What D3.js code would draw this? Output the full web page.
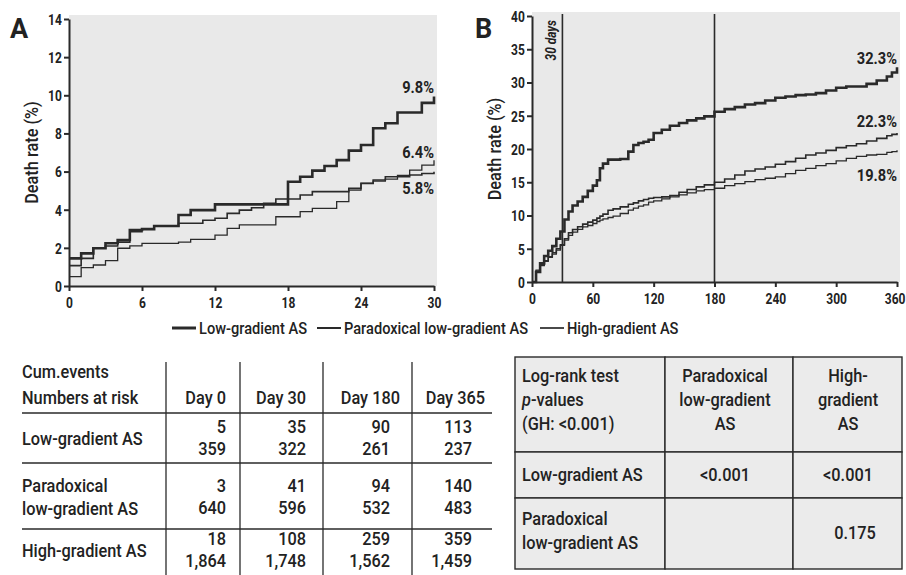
<!DOCTYPE html>
<html>
<head>
<meta charset="utf-8">
<script src="https://cdn.jsdelivr.net/npm/d3@7"></script>
<style>
  body { margin: 0; background: white; }
  text { font-family: "Roboto", "Liberation Sans", sans-serif; fill: #222; font-weight: 500; }
</style>
</head>
<body>
<div id="container"></div>
<script>
let w = 906;
let h = 575;

// panel A, first 30 days (step values read per day)
let aDays = d3.range(0, 31);
let aLow = [1.45,1.71,1.98,2.24,2.41,2.94,2.98,3.15,3.15,3.72,3.98,3.98,4.28,4.28,4.28,4.28,4.28,4.28,5.47,5.73,6.05,6.29,6.6,7.1,7.39,8.27,8.53,9.1,9.1,9.6,9.93];
let aPara = [1.07,1.45,2.0,2.1,2.3,2.85,3.0,3.15,3.15,3.29,3.29,3.45,3.55,3.81,3.98,4.1,4.34,4.56,4.56,4.77,4.95,4.95,4.95,5.12,5.38,5.56,5.73,5.73,5.82,5.9,5.99];
let aHigh = [0.49,0.96,1.1,1.33,1.98,2.1,2.24,2.24,2.24,2.3,2.45,2.45,2.67,3.02,3.2,3.2,3.2,3.63,3.63,3.9,4.07,4.07,4.42,5.03,5.38,5.5,5.6,5.8,6.08,6.34,6.6];
let aEndLabels = ["9.8%", "6.4%", "5.8%"];

// panel B, one year
let bDays = [0,4,8,12,16,20,24,28,32,36,40,45,50,55,60,64,67,70,75,80,87,95,100,105,110,115,120,128,136,145,153,162,170,180,190,200,210,220,230,240,250,260,270,280,290,300,310,320,330,340,350,355,360];
let bLow = [0,1.5,2.8,3.9,4.7,5.4,6.5,7.6,9.4,10.6,11.5,12.1,12.8,13.7,14.5,15.3,17.1,17.8,18.4,18.4,18.5,19.6,20.6,20.9,21.1,21.4,22.4,22.9,23.5,23.9,24.3,24.6,24.9,25.6,26.0,26.3,26.7,26.9,27.3,27.7,27.9,28.1,28.2,28.4,28.8,29.2,29.4,29.4,29.8,30.3,30.9,31.5,32.3];
let bPara = [0,1.6,2.5,3.2,3.8,4.4,5.0,5.6,6.5,7.4,7.9,8.3,8.7,9.0,9.3,9.6,9.9,10.2,10.8,11.0,11.3,11.7,11.9,12.2,12.4,12.6,12.7,12.8,13.0,13.5,13.9,14.3,14.6,15.0,15.5,16.1,16.7,17.0,17.3,17.7,18.1,18.6,19.1,19.4,19.8,20.2,20.5,20.8,21.2,21.6,22.0,22.2,22.4];
let bHigh = [0,1.8,2.6,3.1,3.7,4.2,4.8,5.5,6.3,7.0,7.5,7.9,8.3,8.5,8.8,9.1,9.3,9.5,9.7,9.9,10.3,10.8,11.1,11.4,11.6,12.0,12.2,12.5,12.8,13.1,13.4,13.7,13.9,14.1,14.5,14.8,15.1,15.4,15.6,15.8,16.3,16.8,17.1,17.5,17.8,18.2,18.6,18.9,19.1,19.2,19.5,19.6,19.8];
let bEndLabels = ["32.3%", "22.3%", "19.8%"];
let bMarkers = [30, 180];

let groups = ["Low-gradient AS", "Paradoxical low-gradient AS", "High-gradient AS"];
let widths = [2.6, 1.6, 1.3];

// table of events / numbers at risk
let tableDays = ["Day 0", "Day 30", "Day 180", "Day 365"];
let rowLabels = [["Low-gradient AS"], ["Paradoxical", "low-gradient AS"], ["High-gradient AS"]];
let cumEvents = [[5,35,90,113],[3,41,94,140],[18,108,259,359]];
let atRisk = [[359,322,261,237],[640,596,532,483],[1864,1748,1562,1459]];

// log-rank table
let pColHeads = [["Paradoxical","low-gradient","AS"], ["High-","gradient","AS"]];
let pRowHeads = [["Low-gradient AS"], ["Paradoxical","low-gradient AS"]];
let pValues = [["<0.001","<0.001"], ["","0.175"]];

let ink = "#2a2a2a";
let narrow = 0.86;   // no condensed font installed, squeeze Roboto instead

let viz = d3.select("#container")
  .append("svg")
    .attr("width", w)
    .attr("height", h)
    .style("background-color", "white");

// condensed text helper
function label(parent, x, y, str, size, anchor) {
  return parent.append("text")
    .attr("transform", "translate(" + x + "," + y + ") scale(" + narrow + ",1)")
    .attr("text-anchor", anchor || "start")
    .style("font-size", size)
    .text(str);
}

function drawPanel(opt) {
  let x = d3.scaleLinear().domain(opt.xDomain).range([opt.left, opt.right]);
  let y = d3.scaleLinear().domain(opt.yDomain).range([opt.bottom, opt.top]);

  viz.append("rect")
    .attr("x", opt.left).attr("y", opt.top - 4)
    .attr("width", opt.right - opt.left + 3).attr("height", opt.bottom - opt.top + 4)
    .attr("fill", "#e9e9e9");

  let yAxis = viz.append("g")
    .attr("transform", "translate(" + opt.left + ",0)")
    .call(d3.axisLeft(y).tickValues(opt.yTicks).tickSize(5).tickSizeOuter(0));
  let xAxis = viz.append("g")
    .attr("transform", "translate(0," + opt.bottom + ")")
    .call(d3.axisBottom(x).tickValues(opt.xTicks).tickSize(5).tickSizeOuter(0));
  [xAxis, yAxis].forEach(function(ax) {
    ax.selectAll("path, line").attr("stroke", ink).attr("stroke-width", 2);
    ax.selectAll("text")
      .attr("transform", "scale(0.8,1)")
      .style("font-size", "15px").style("font-weight", "bold").attr("fill", ink);
  });
  yAxis.selectAll("text").attr("dy", "0.36em").attr("x", -9);
  xAxis.selectAll("text").attr("dy", "0.95em");
  if (opt.lastTickEnd) {
    xAxis.selectAll("text").filter(function(d) { return d == opt.xDomain[1]; })
      .attr("text-anchor", "end").attr("x", (w - 1 - opt.right) / 0.8);
  }

  viz.append("text")
    .attr("transform", "translate(" + (opt.left - 31) + "," + ((opt.top + opt.bottom) / 2) + ") rotate(-90) scale(" + narrow + ",1)")
    .attr("text-anchor", "middle")
    .style("font-size", "19px")
    .text("Death rate (%)");

  viz.append("text")
    .attr("x", opt.labelX).attr("y", 38)
    .style("font-size", "27px").style("font-weight", "bold")
    .text(opt.label);

  (opt.markers || []).forEach(function(m) {
    viz.append("line")
      .attr("x1", x(m)).attr("x2", x(m))
      .attr("y1", opt.top - 2).attr("y2", opt.bottom)
      .attr("stroke", ink).attr("stroke-width", 1.6);
  });

  let line = d3.line()
    .x(function(d) { return x(d[0]); })
    .y(function(d) { return y(d[1]); })
    .curve(d3.curveStepAfter);

  opt.series.forEach(function(s, i) {
    let pts = opt.days.map(function(d, j) { return [d, s[j]]; });
    viz.append("path")
      .attr("d", line(pts))
      .attr("fill", "none")
      .attr("stroke", ink)
      .attr("stroke-width", widths[i]);
  });

  opt.endLabels.forEach(function(t, i) {
    label(viz, opt.right, opt.endLabelY[i], t, "17px", "end")
      .style("font-weight", "bold");
  });
  return x;
}

drawPanel({
  xDomain: [0, 30], yDomain: [0, 14],
  left: 69, right: 434, top: 19, bottom: 286,
  xTicks: [0, 6, 12, 18, 24, 30], yTicks: d3.range(0, 15, 2),
  days: aDays, series: [aLow, aPara, aHigh],
  endLabels: aEndLabels, endLabelY: [93, 158, 194],
  label: "A", labelX: 10
});

let xb = drawPanel({
  xDomain: [0, 360], yDomain: [0, 40],
  left: 532, right: 897, top: 16, bottom: 282,
  xTicks: [0, 60, 120, 180, 240, 300, 360], yTicks: d3.range(0, 41, 5),
  days: bDays, series: [bLow, bPara, bHigh],
  endLabels: bEndLabels, endLabelY: [64, 127, 181],
  markers: bMarkers, lastTickEnd: true,
  label: "B", labelX: 475
});

viz.append("text")
  .attr("transform", "translate(" + (xb(30) - 6) + ",20) rotate(-90) scale(0.85,1)")
  .attr("text-anchor", "end")
  .style("font-size", "14px").style("font-weight", "bold").style("font-style", "italic")
  .text("30 days");

// legend
let legendX = [172, 317, 540];
groups.forEach(function(g, i) {
  viz.append("line")
    .attr("x1", legendX[i]).attr("x2", legendX[i] + 24)
    .attr("y1", 328).attr("y2", 328)
    .attr("stroke", ink).attr("stroke-width", widths[i] + 0.4);
  label(viz, legendX[i] + 27, 334, g, "17px");
});

// left table
let colRight = [226, 306, 390, 472];
let headRight = [226, 306, 400, 485];
let vLines = [166, 240, 323, 412];
let hLines = [413, 463, 529];
let rowBase = [433, 492, 545];

viz.selectAll(".tv").data(vLines).enter().append("line")
  .attr("x1", function(d) { return d; }).attr("x2", function(d) { return d; })
  .attr("y1", 362).attr("y2", 575)
  .attr("stroke", ink).attr("stroke-width", 1.3);
viz.selectAll(".th").data(hLines).enter().append("line")
  .attr("x1", 22).attr("x2", 492)
  .attr("y1", function(d) { return d; }).attr("y2", function(d) { return d; })
  .attr("stroke", ink).attr("stroke-width", 1.3);

let tFont = "19px";
label(viz, 22, 378, "Cum.events", tFont);
label(viz, 22, 404, "Numbers at risk", tFont);
tableDays.forEach(function(d, i) {
  label(viz, headRight[i], 404, d, tFont, "end");
});
rowLabels.forEach(function(lbl, r) {
  let base = lbl.length == 1 ? rowBase[r] + 12 : rowBase[r];
  lbl.forEach(function(t, k) {
    label(viz, 22, base + k * 23, t, tFont);
  });
  cumEvents[r].forEach(function(v, c) {
    label(viz, colRight[c], rowBase[r], d3.format(",")(v), tFont, "end");
    label(viz, colRight[c], rowBase[r] + 22, d3.format(",")(atRisk[r][c]), tFont, "end");
  });
});

// log-rank table
let pCols = [515, 665, 793, 902];
let pRows = [357, 452, 498, 569];
for (let r = 0; r < 3; r++) {
  for (let c = 0; c < 3; c++) {
    viz.append("rect")
      .attr("x", pCols[c]).attr("y", pRows[r])
      .attr("width", pCols[c + 1] - pCols[c]).attr("height", pRows[r + 1] - pRows[r])
      .attr("fill", "#ebebeb").attr("stroke", ink).attr("stroke-width", 1.4);
  }
}
label(viz, 522, 382, "Log-rank test", tFont);
let pv = label(viz, 522, 406, "", tFont);
pv.append("tspan").style("font-style", "italic").text("p");
pv.append("tspan").text("-values");
label(viz, 522, 430, "(GH: <0.001)", tFont);

let colMid = [725, 848];
pColHeads.forEach(function(lines, c) {
  lines.forEach(function(t, k) {
    label(viz, colMid[c], 382 + k * 24, t, tFont, "middle");
  });
});
let pRowBase = [481, 525];
pRowHeads.forEach(function(lines, r) {
  lines.forEach(function(t, k) {
    label(viz, 522, pRowBase[r] + k * 24, t, tFont);
  });
});
let pValBase = [481, 539];
pValues.forEach(function(row, r) {
  row.forEach(function(t, c) {
    label(viz, colMid[c] + (r == 1 ? 7 : 0), pValBase[r], t, tFont, "middle");
  });
});
</script>
</body>
</html>
